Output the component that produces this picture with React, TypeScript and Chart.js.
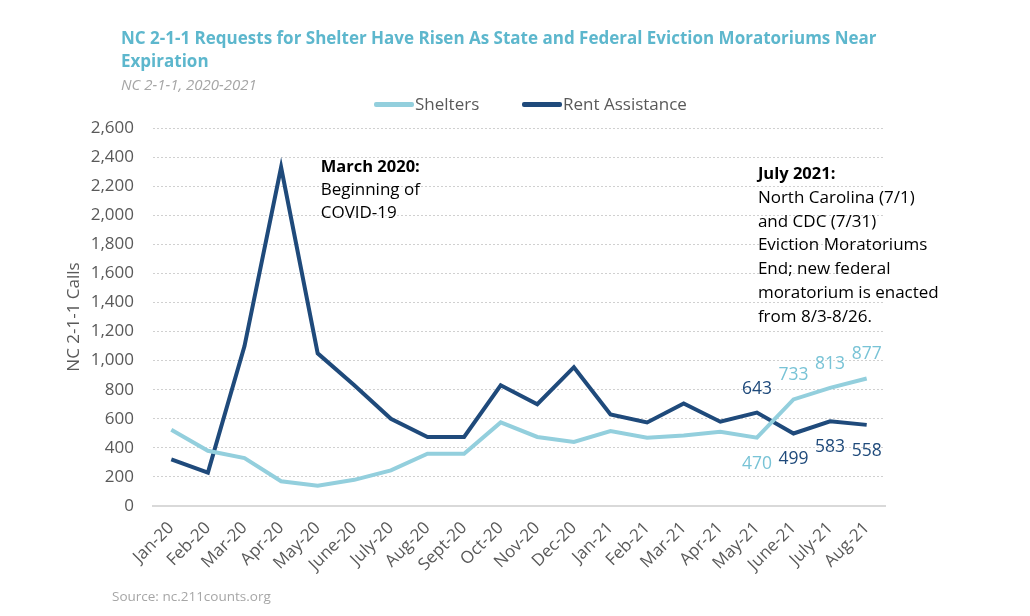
import React, { useEffect, useRef } from "react";
import { Chart, registerables } from "chart.js";

Chart.register(...registerables);

const categories = [
  "Jan-20", "Feb-20", "Mar-20", "Apr-20", "May-20", "June-20", "July-20", "Aug-20",
  "Sept-20", "Oct-20", "Nov-20", "Dec-20", "Jan-21", "Feb-21", "Mar-21", "Apr-21",
  "May-21", "June-21", "July-21", "Aug-21",
];

const shelters = [525, 380, 330, 170, 140, 180, 245, 360, 360, 575, 475, 440, 515, 470, 485, 510, 470, 733, 813, 877];
const rentAssistance = [320, 230, 1100, 2330, 1050, 830, 600, 475, 475, 830, 700, 955, 630, 575, 705, 580, 643, 499, 583, 558];

const yTicks = [0, 200, 400, 600, 800, 1000, 1200, 1400, 1600, 1800, 2000, 2200, 2400, 2600];

// which points carry a value label, and on which side
const shelterLabelIdx = [16, 17, 18, 19];
const shelterLabelSide = ["below", "above", "above", "above"];
const rentLabelIdx = [16, 17, 18, 19];
const rentLabelSide = ["above", "below", "below", "below"];

const marchNote = ["March 2020:", "Beginning of", "COVID-19"];
const julyNote = [
  "July 2021:",
  "North Carolina (7/1)",
  "and CDC (7/31)",
  "Eviction Moratoriums",
  "End; new federal",
  "moratorium is enacted",
  "from 8/3-8/26.",
];

const LIGHT = "#93CFDD";
const DARK = "#1F4A7B";
const FONT = "'Open Sans', 'Noto Sans', sans-serif";

const labelPlugin = {
  id: "valueLabels",
  afterDatasetsDraw(chart: any) {
    const ctx = chart.ctx;
    ctx.save();
    ctx.font = `17.5px ${FONT}`;
    ctx.textAlign = "center";
    ctx.textBaseline = "middle";
    const specs = [
      { ds: 0, idx: shelterLabelIdx, side: shelterLabelSide, color: "#78C3D6" },
      { ds: 1, idx: rentLabelIdx, side: rentLabelSide, color: DARK },
    ];
    specs.forEach((s) => {
      const meta = chart.getDatasetMeta(s.ds);
      const values = chart.data.datasets[s.ds].data;
      s.idx.forEach((i: number, k: number) => {
        const pt = meta.data[i];
        const off = s.side[k] === "above" ? -24 : 26;
        ctx.fillStyle = s.color;
        ctx.fillText(String(values[i]), pt.x, pt.y + off);
      });
    });

    // annotations
    const xs = chart.scales.x;
    const ys = chart.scales.y;
    const drawNote = (lines: string[], idx: number, dx: number, topVal: number, lh: number) => {
      const x = xs.getPixelForValue(idx) + dx;
      const y0 = ys.getPixelForValue(topVal);
      ctx.textAlign = "left";
      ctx.textBaseline = "middle";
      ctx.fillStyle = "#000000";
      lines.forEach((ln, j) => {
        ctx.font = j === 0 ? `bold 16.5px ${FONT}` : `17px ${FONT}`;
        ctx.fillText(ln, x, y0 + j * lh);
      });
    };
    drawNote(marchNote, 4, 3, 2330, 23.2);
    drawNote(julyNote, 16, 1, 2280, 23.7);
    ctx.restore();
  },
};

export default function App() {
  const ref = useRef<HTMLCanvasElement | null>(null);

  useEffect(() => {
    if (!ref.current) return;
    const chart = new Chart(ref.current, {
      type: "line",
      data: {
        labels: categories,
        datasets: [
          {
            label: "Shelters",
            data: shelters,
            borderColor: LIGHT,
            backgroundColor: LIGHT,
            borderWidth: 4,
            pointRadius: 0,
            tension: 0,
          },
          {
            label: "Rent Assistance",
            data: rentAssistance,
            borderColor: DARK,
            backgroundColor: DARK,
            borderWidth: 4,
            pointRadius: 0,
            tension: 0,
          },
        ],
      },
      options: {
        animation: false,
        responsive: false,
        maintainAspectRatio: false,
        layout: { padding: { left: 60, top: 128, right: 145, bottom: 30 } },
        plugins: {
          legend: { display: false },
          tooltip: { enabled: false },
          title: { display: false },
        },
        scales: {
          x: {
            type: "category",
            offset: true,
            grid: { display: false, drawTicks: false },
            border: { display: true, color: "#D9D9D9", width: 2 },
            ticks: {
              color: "#595959",
              font: { family: FONT, size: 17 },
              maxRotation: 45,
              minRotation: 45,
              autoSkip: false,
              padding: 12,
            },
            afterFit: (s: any) => {
              s.height = 80;
            },
          },
          y: {
            min: 0,
            max: 2600,
            afterBuildTicks: (s: any) => {
              s.ticks = yTicks.map((v) => ({ value: v }));
            },
            grid: {
              color: (c: any) => (c.tick && c.tick.value === 0 ? "rgba(0,0,0,0)" : "#D0D0D0"),
              lineWidth: 1,
              drawTicks: false,
            },
            border: { display: false, dash: [2, 2] },
            ticks: {
              color: "#595959",
              font: { family: FONT, size: 17 },
              padding: 19,
              callback: (v: any) => Number(v).toLocaleString("en-US"),
            },
            title: {
              display: true,
              text: "NC 2-1-1 Calls",
              color: "#595959",
              font: { family: FONT, size: 17 },
              padding: { top: 4, bottom: 4 },
            },
            afterFit: (s: any) => {
              s.width = 93;
            },
          },
        },
      },
      plugins: [labelPlugin],
    });
    return () => chart.destroy();
  }, []);

  const legendText: React.CSSProperties = {
    position: "absolute",
    top: 92,
    fontFamily: FONT,
    fontSize: 17,
    color: "#595959",
    lineHeight: "24px",
    whiteSpace: "nowrap",
  };
  const swatch = (left: number, color: string): React.CSSProperties => ({
    position: "absolute",
    left,
    top: 102,
    width: 40,
    height: 5,
    borderRadius: 2,
    background: color,
  });

  return (
    <div style={{ position: "absolute", left: 0, top: 0, width: 1030, height: 616, background: "#fff", overflow: "hidden" }}>
      <canvas ref={ref} width={1030} height={616} style={{ position: "absolute", left: 0, top: 0 }} />
      <div
        style={{
          position: "absolute",
          left: 121,
          top: 26,
          width: 780,
          fontFamily: FONT,
          fontWeight: 700,
          fontSize: 17,
          lineHeight: "23px",
          color: "#5DB7CD",
        }}
      >
        NC 2-1-1 Requests for Shelter Have Risen As State and Federal Eviction Moratoriums Near Expiration
      </div>
      <div
        style={{
          position: "absolute",
          left: 121,
          top: 74,
          fontFamily: FONT,
          fontStyle: "italic",
          fontSize: 15,
          lineHeight: "20px",
          color: "#A6A6A6",
        }}
      >
        NC 2-1-1, 2020-2021
      </div>
      <div style={swatch(374, LIGHT)} />
      <div style={{ ...legendText, left: 415 }}>Shelters</div>
      <div style={swatch(522, DARK)} />
      <div style={{ ...legendText, left: 563 }}>Rent Assistance</div>
      <div
        style={{
          position: "absolute",
          left: 112,
          top: 586,
          fontFamily: FONT,
          fontSize: 13.5,
          lineHeight: "20px",
          color: "#A6A6A6",
        }}
      >
        Source: nc.211counts.org
      </div>
    </div>
  );
}
